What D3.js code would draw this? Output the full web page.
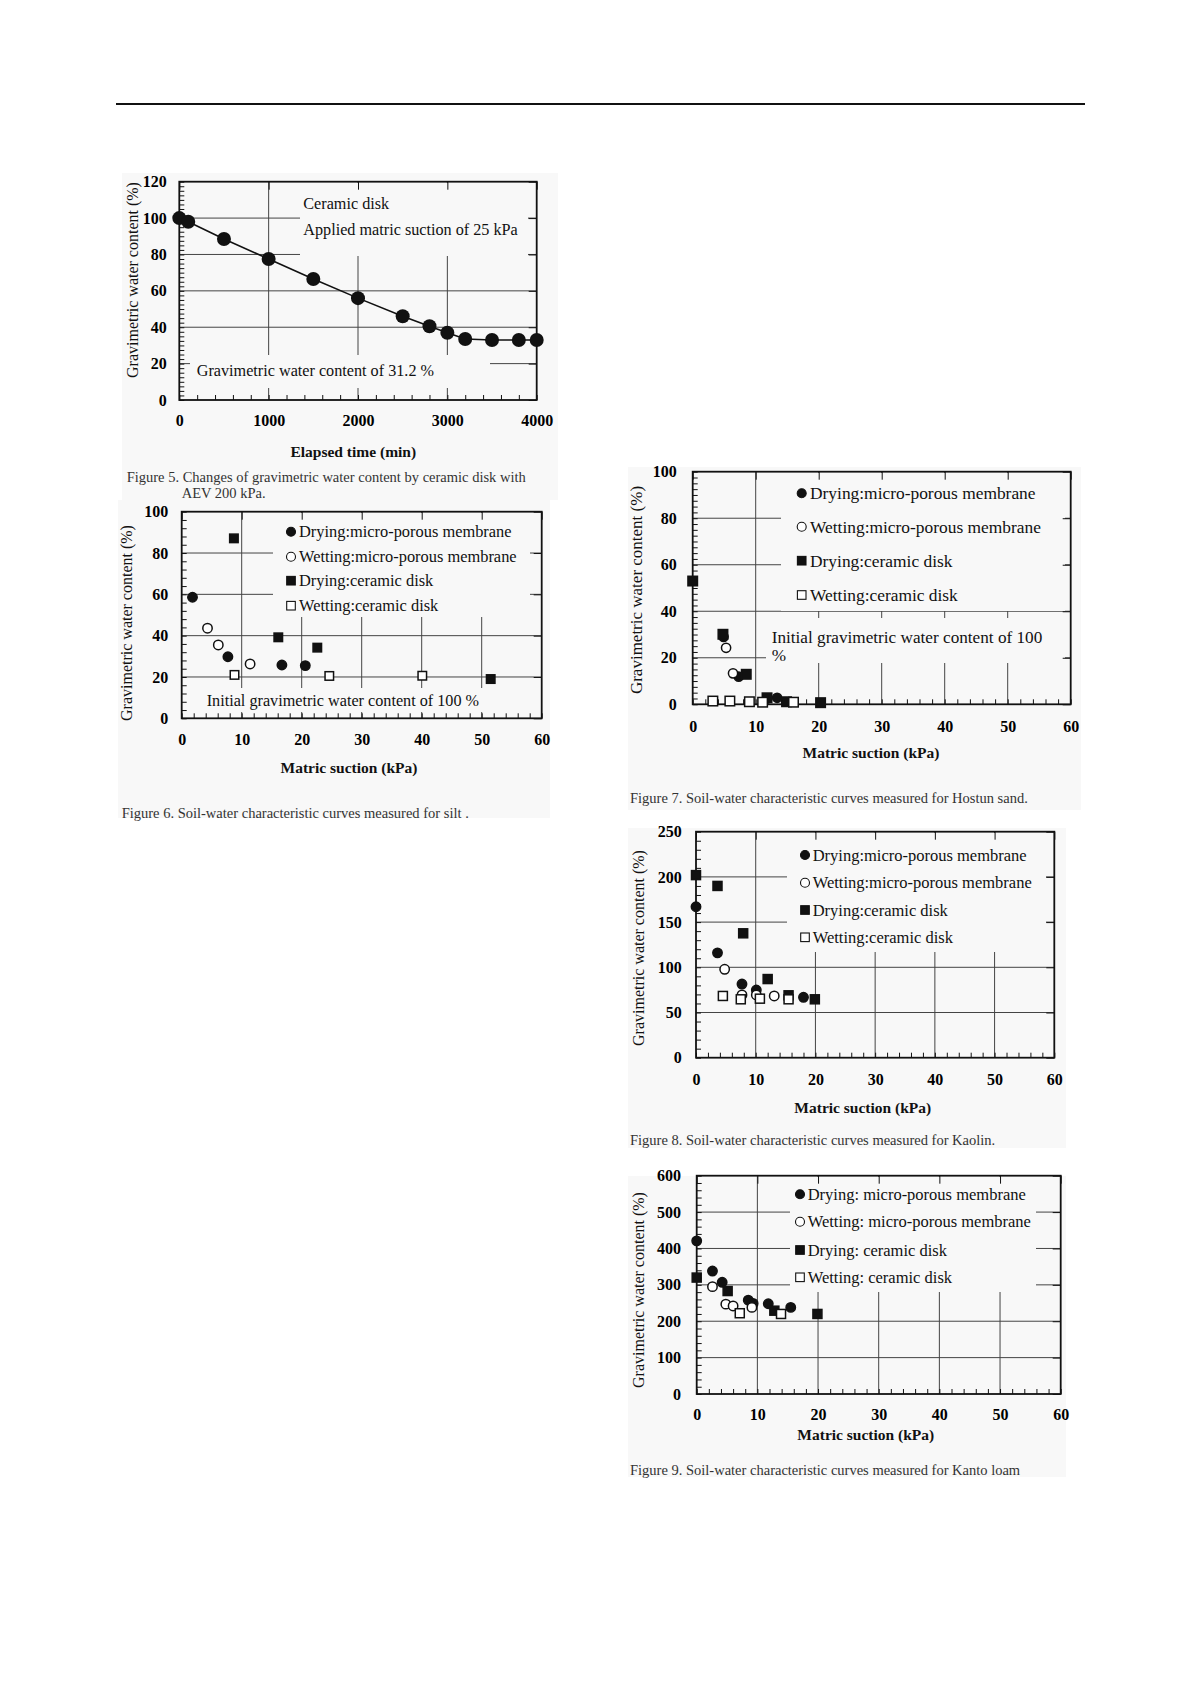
<!DOCTYPE html>
<html>
<head>
<meta charset="UTF-8">
<script src="https://cdn.jsdelivr.net/npm/d3@7"></script>
<style>
  body { margin: 0; background: #fff; }
  svg { display: block; }
</style>
</head>
<body>
<script>
// Figure 5: water content against elapsed time (ceramic disk, 25 kPa)
const fig5Time = [0, 100, 500, 1000, 1500, 2000, 2500, 2800, 3000, 3200, 3500, 3800, 4000];
const fig5Water = [100, 98, 88.5, 77.5, 66.5, 56, 46, 40.5, 37, 33.5, 33, 33, 33];

// Figures 6-9: [matric suction (kPa), gravimetric water content (%)]
const fig6DryMembrane = [[1.8, 58.6], [7.7, 29.8], [16.7, 25.8], [20.6, 25.5]];
const fig6WetMembrane = [[4.3, 43.6], [6.1, 35.5], [11.4, 26.3]];
const fig6DryCeramic = [[8.7, 87.1], [16.1, 39.2], [22.6, 34.2], [51.5, 19]];
const fig6WetCeramic = [[8.8, 21], [24.6, 20.5], [40.1, 20.6]];

const fig7DryMembrane = [[4.9, 29], [7.3, 11.9], [13.4, 2.8]];
const fig7WetMembrane = [[5.3, 24.3], [6.4, 13.3]];
const fig7DryCeramic = [[0, 53], [4.8, 30.1], [8.5, 12.9], [11.8, 2.8], [14.9, 1.1], [20.3, 0.7]];
const fig7WetCeramic = [[3.2, 1.4], [5.9, 1.4], [9, 1.1], [11.1, 0.9], [16, 0.9]];

const fig8DryMembrane = [[0, 167], [3.6, 116], [7.7, 81.5], [10.1, 74.9], [18, 66.8]];
const fig8WetMembrane = [[4.8, 97.8], [7.7, 69.4], [10.1, 69.4], [13.1, 68.3]];
const fig8DryCeramic = [[0, 202], [3.6, 190], [7.9, 137.6], [12, 87], [15.5, 69], [19.9, 64.6]];
const fig8WetCeramic = [[4.5, 68.3], [7.5, 64.6], [10.7, 65.3], [15.5, 64.6]];

const fig9DryMembrane = [[0, 421], [2.6, 338], [4.2, 307], [8.5, 258], [9.3, 249], [11.8, 248], [15.5, 238]];
const fig9WetMembrane = [[2.6, 295], [4.8, 247], [6, 242], [9.1, 238]];
const fig9DryCeramic = [[0, 320], [5.1, 283], [12.8, 229], [19.9, 220]];
const fig9WetCeramic = [[7.1, 222], [13.9, 220]];

const legendLabels = ['Drying:micro-porous membrane', 'Wetting:micro-porous membrane', 'Drying:ceramic disk', 'Wetting:ceramic disk'];
const legendLabels9 = ['Drying: micro-porous membrane', 'Wetting: micro-porous membrane', 'Drying: ceramic disk', 'Wetting: ceramic disk'];
const markerKinds = ['dotFill', 'dotOpen', 'sqFill', 'sqOpen'];

const timeTicks = [0, 1000, 2000, 3000, 4000];
const suctionTicks = [0, 10, 20, 30, 40, 50, 60];

const captions = {
  f5: ['Figure 5. Changes of gravimetric water content by ceramic disk with', 'AEV 200 kPa.'],
  f6: 'Figure 6. Soil-water characteristic curves measured for silt .',
  f7: 'Figure 7. Soil-water characteristic curves measured for Hostun sand.',
  f8: 'Figure 8. Soil-water characteristic curves measured for Kaolin.',
  f9: 'Figure 9. Soil-water characteristic curves measured for Kanto loam'
};

const FONT = '"Liberation Serif", "Times New Roman", serif';
const BG = '#f8f8f8';
const INK = '#111';

const svg = d3.select('body').append('svg')
  .attr('width', 1196).attr('height', 1692)
  .style('font-family', FONT);

// top rule of the page
svg.append('line')
  .attr('x1', 116).attr('x2', 1085).attr('y1', 104).attr('y2', 104)
  .attr('stroke', INK).attr('stroke-width', 2);

// light panels behind the figures
[[122, 173, 436, 327], [118, 500, 432, 318], [628, 467, 453, 343], [628, 828, 438, 320], [628, 1176, 438, 301]]
  .forEach(r => svg.append('rect').attr('x', r[0]).attr('y', r[1]).attr('width', r[2]).attr('height', r[3]).attr('fill', BG));

function range(a, b, s) {
  const out = [];
  for (let v = a; v <= b + 1e-9; v += s) out.push(+v.toFixed(4));
  return out;
}

function drawMarks(g, data, kind, x, y, r, side) {
  if (kind.startsWith('dot')) {
    g.append('g').selectAll('circle').data(data).join('circle')
      .attr('cx', d => x(d[0])).attr('cy', d => y(d[1])).attr('r', r)
      .attr('fill', kind === 'dotFill' ? INK : '#fff')
      .attr('stroke', INK).attr('stroke-width', 1.5);
  } else {
    g.append('g').selectAll('rect').data(data).join('rect')
      .attr('x', d => x(d[0]) - side / 2).attr('y', d => y(d[1]) - side / 2)
      .attr('width', side).attr('height', side)
      .attr('fill', kind === 'sqFill' ? INK : '#fff')
      .attr('stroke', INK).attr('stroke-width', 1.5);
  }
}

function panel(p) {
  const g = svg.append('g');
  const x = d3.scaleLinear().domain(p.xDomain).range([p.left, p.right]);
  const y = d3.scaleLinear().domain(p.yDomain).range([p.bottom, p.top]);

  // grid
  g.append('g').selectAll('line').data(p.xGrid).join('line')
    .attr('x1', d => x(d)).attr('x2', d => x(d)).attr('y1', p.top).attr('y2', p.bottom)
    .attr('stroke', '#444').attr('stroke-width', 1);
  g.append('g').selectAll('line').data(p.yGrid).join('line')
    .attr('x1', p.left).attr('x2', p.right).attr('y1', d => y(d)).attr('y2', d => y(d))
    .attr('stroke', '#444').attr('stroke-width', 1);

  // blank areas behind the texts
  g.append('g').selectAll('rect').data(p.boxes).join('rect')
    .attr('x', d => d[0]).attr('y', d => d[1])
    .attr('width', d => d[2] - d[0]).attr('height', d => d[3] - d[1])
    .attr('fill', BG);

  // minor ticks bottom / left
  g.append('g').attr('transform', `translate(0,${p.bottom})`)
    .call(d3.axisBottom(x).tickValues(range(p.xDomain[0], p.xDomain[1], p.xMinor)).tickSize(-5).tickFormat(''))
    .call(a => a.select('.domain').remove());
  g.append('g').attr('transform', `translate(${p.left},0)`)
    .call(d3.axisLeft(y).tickValues(range(p.yDomain[0], p.yDomain[1], p.yMinor)).tickSize(-5).tickFormat(''))
    .call(a => a.select('.domain').remove());
  // major ticks on the four sides
  g.append('g').attr('transform', `translate(0,${p.top})`)
    .call(d3.axisTop(x).tickValues(p.xTicks).tickSize(-8).tickFormat(''))
    .call(a => a.select('.domain').remove());
  g.append('g').attr('transform', `translate(${p.right},0)`)
    .call(d3.axisRight(y).tickValues(p.yTicks).tickSize(-8).tickFormat(''))
    .call(a => a.select('.domain').remove());
  g.selectAll('.tick line').attr('stroke', INK).attr('stroke-width', 1);

  // tick labels
  g.append('g').attr('transform', `translate(0,${p.bottom})`)
    .call(d3.axisBottom(x).tickValues(p.xTicks).tickSize(0).tickPadding(p.xPad).tickFormat(d => String(d)))
    .call(a => a.select('.domain').remove())
    .attr('font-family', FONT).attr('font-size', 16).attr('font-weight', 'bold');
  g.append('g').attr('transform', `translate(${p.left},0)`)
    .call(d3.axisLeft(y).tickValues(p.yTicks).tickSize(0).tickPadding(p.yPad).tickFormat(d => String(d)))
    .call(a => a.select('.domain').remove())
    .attr('font-family', FONT).attr('font-size', 16).attr('font-weight', 'bold');

  // frame
  g.append('rect').attr('x', p.left).attr('y', p.top)
    .attr('width', p.right - p.left).attr('height', p.bottom - p.top)
    .attr('fill', 'none').attr('stroke', INK).attr('stroke-width', 1.8);

  // axis titles
  g.append('text').attr('x', p.xTitle[0]).attr('y', p.xTitle[1]).attr('dy', '0.35em')
    .attr('text-anchor', 'middle').attr('font-size', 15.5).attr('font-weight', 'bold')
    .attr('fill', INK).text(p.xLabel);
  g.append('text')
    .attr('transform', `translate(${p.yTitle[0]},${p.yTitle[1]}) rotate(-90)`)
    .attr('dy', '0.35em').attr('text-anchor', 'middle').attr('font-size', p.yTitleSize || 16)
    .attr('fill', INK).text(p.yLabel);

  // annotations
  (p.notes || []).forEach(n => g.append('text').attr('x', n[0]).attr('y', n[1]).attr('dy', '0.35em')
    .attr('font-size', p.noteSize || 16.2).attr('fill', INK).text(n[2]));

  // legend
  if (p.legend) {
    const L = p.legend;
    L.labels.forEach((lab, i) => {
      const cy = L.rows[i];
      const kind = markerKinds[i];
      if (kind.startsWith('dot')) {
        g.append('circle').attr('cx', L.mx).attr('cy', cy).attr('r', 4.5)
          .attr('fill', kind === 'dotFill' ? INK : '#fff').attr('stroke', INK).attr('stroke-width', 1.1);
      } else {
        g.append('rect').attr('x', L.mx - 4.3).attr('y', cy - 4.3).attr('width', 8.6).attr('height', 8.6)
          .attr('fill', kind === 'sqFill' ? INK : '#fff').attr('stroke', INK).attr('stroke-width', 1.1);
      }
      g.append('text').attr('x', L.tx).attr('y', cy).attr('dy', '0.35em')
        .attr('font-size', L.size).attr('fill', INK).text(lab);
    });
  }

  // captions
  (p.caption || []).forEach(c => g.append('text').attr('x', c[0]).attr('y', c[1]).attr('dy', '0.35em')
    .attr('font-size', 14.5).attr('fill', '#333').text(c[2]));

  return { g, x, y };
}

// ---------- Figure 5 ----------
const f5 = panel({
  left: 179.3, right: 536.7, top: 181.7, bottom: 400,
  xDomain: [0, 4000], yDomain: [0, 120],
  xTicks: timeTicks, yTicks: range(0, 120, 20), xMinor: 200, yMinor: 2.5,
  xGrid: [1000, 2000, 3000], yGrid: [20, 40, 60, 80, 100],
  boxes: [[300, 183, 528, 256], [190, 355, 490, 388]],
  xPad: 15, yPad: 12.6,
  xLabel: 'Elapsed time (min)', xTitle: [353.3, 451.7],
  yLabel: 'Gravimetric water content (%)', yTitle: [132.3, 280],
  notes: [[303.3, 203.3, 'Ceramic disk'], [303.3, 229.3, 'Applied matric suction of 25 kPa'],
          [196.7, 370.7, 'Gravimetric water content of 31.2 %']],
  caption: [[126.7, 476.7, captions.f5[0]], [181.7, 493, captions.f5[1]]]
});
const f5Points = fig5Time.map((t, i) => [t, fig5Water[i]]);
f5.g.append('path').datum(f5Points)
  .attr('d', d3.line().x(d => f5.x(d[0])).y(d => f5.y(d[1])))
  .attr('fill', 'none').attr('stroke', INK).attr('stroke-width', 1.6);
f5.g.append('g').selectAll('circle').data(f5Points).join('circle')
  .attr('cx', d => f5.x(d[0])).attr('cy', d => f5.y(d[1])).attr('r', 7).attr('fill', INK);

// ---------- Figures 6-9 ----------
function swccPanel(cfg, series, mr, ms) {
  const p = panel(Object.assign({
    xDomain: [0, 60], xTicks: suctionTicks, xMinor: 2,
    xGrid: [10, 20, 30, 40, 50],
    xLabel: 'Matric suction (kPa)', yLabel: 'Gravimetric water content (%)'
  }, cfg));
  series.forEach((s, i) => drawMarks(p.g, s, markerKinds[i], p.x, p.y, mr, ms));
  return p;
}

swccPanel({
  left: 181.7, right: 541.7, top: 511.7, bottom: 718.3,
  yDomain: [0, 100], yTicks: range(0, 100, 20), yMinor: 4, yGrid: [20, 40, 60, 80],
  boxes: [[273, 513, 530, 617], [195, 688, 492, 712]],
  xPad: 15, yPad: 13.4, xTitle: [349, 767.7], yTitle: [126.7, 623],
  notes: [[206.7, 700, 'Initial gravimetric water content of 100 %']],
  legend: { labels: legendLabels, mx: 291, tx: 299, rows: [531.7, 556.7, 580.7, 605.7], size: 16.4 },
  caption: [[121.7, 813, captions.f6]]
}, [fig6DryMembrane, fig6WetMembrane, fig6DryCeramic, fig6WetCeramic], 4.7, 8.5);

swccPanel({
  left: 692.7, right: 1070.7, top: 471.7, bottom: 704.3,
  yDomain: [0, 100], yTicks: range(0, 100, 20), yMinor: 2.5, yGrid: [20, 40, 60, 80],
  boxes: [[781, 473, 1065, 611], [766, 618, 1065, 663]],
  xPad: 16.5, yPad: 16, xTitle: [871, 752.7], yTitle: [635.7, 590], yTitleSize: 17,
  noteSize: 17.2,
  notes: [[771.7, 636.7, 'Initial gravimetric water content of 100'], [771.7, 655, '%']],
  legend: { labels: legendLabels, mx: 801.7, tx: 810, rows: [493.3, 526.7, 560.7, 595], size: 17.4 },
  caption: [[630, 798.3, captions.f7]]
}, [fig7DryMembrane, fig7WetMembrane, fig7DryCeramic, fig7WetCeramic], 4.6, 9.5);

swccPanel({
  left: 696, right: 1054.3, top: 831.7, bottom: 1057.7,
  yDomain: [0, 250], yTicks: range(0, 250, 50), yMinor: 10, yGrid: [50, 100, 150, 200],
  boxes: [[787, 833, 1046, 952]],
  xPad: 16, yPad: 14.3, xTitle: [862.8, 1107.3], yTitle: [638.3, 948],
  legend: { labels: legendLabels, mx: 805, tx: 812.7, rows: [855, 882.7, 910, 937.3], size: 16.5 },
  caption: [[630, 1140, captions.f8]]
}, [fig8DryMembrane, fig8WetMembrane, fig8DryCeramic, fig8WetCeramic], 4.7, 9);

swccPanel({
  left: 696.7, right: 1060.7, top: 1175.7, bottom: 1394,
  yDomain: [0, 600], yTicks: range(0, 600, 100), yMinor: 20, yGrid: [100, 200, 300, 400, 500],
  boxes: [[790, 1177, 1036, 1292]],
  xPad: 15, yPad: 15.7, xTitle: [865.8, 1435], yTitle: [638.3, 1290],
  legend: { labels: legendLabels9, mx: 800, tx: 807.7, rows: [1194.3, 1221.7, 1250, 1277.3], size: 16.5 },
  caption: [[630, 1470, captions.f9]]
}, [fig9DryMembrane, fig9WetMembrane, fig9DryCeramic, fig9WetCeramic], 4.7, 9);
</script>
</body>
</html>
